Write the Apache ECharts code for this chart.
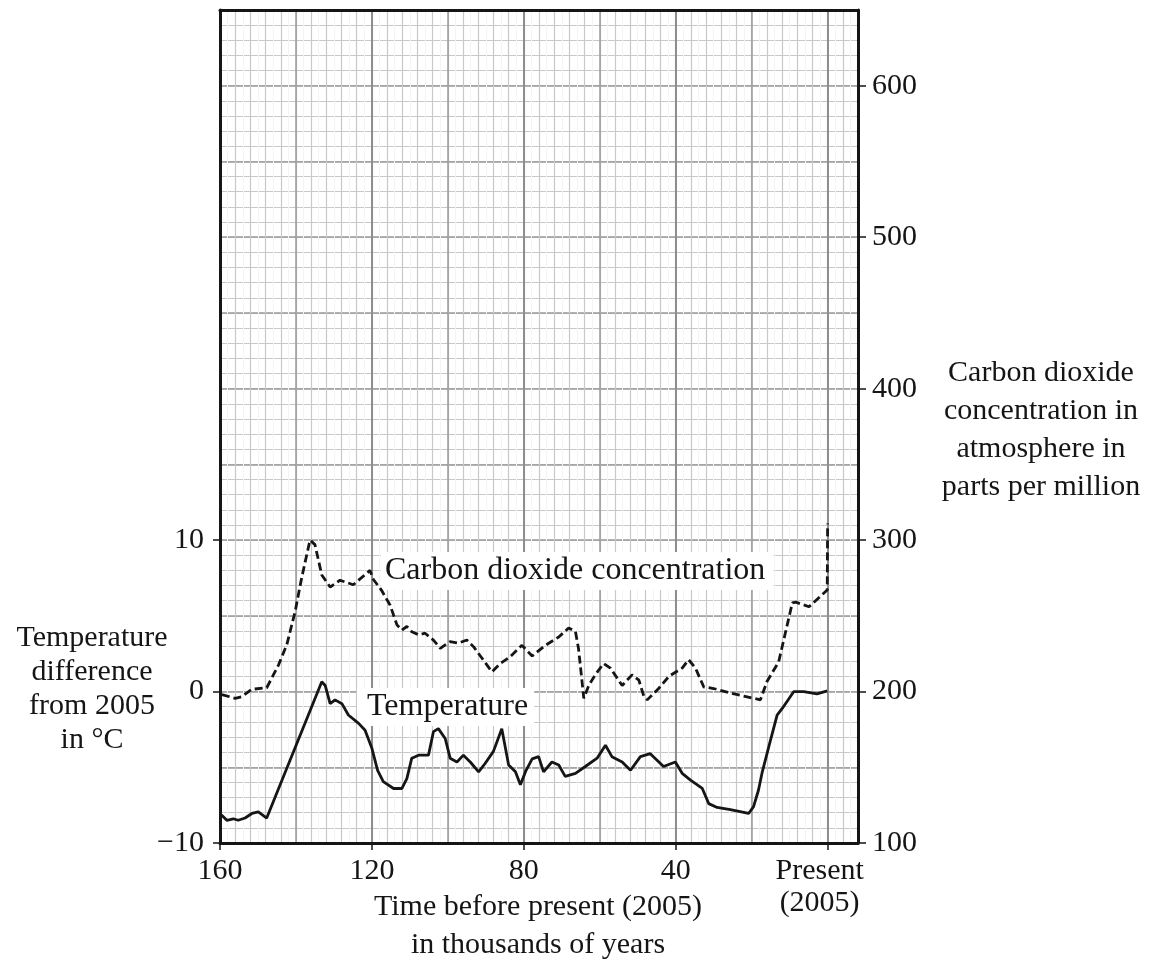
<!DOCTYPE html>
<html>
<head>
    <meta charset="utf-8">
    <title>CO2 and temperature</title>
    <script src="https://cdn.jsdelivr.net/npm/echarts@6/dist/echarts.min.js"></script>
    <style>
        html, body { margin: 0; padding: 0; background: #fff; }
    </style>
</head>
<body>
<div id="main" style="width: 1155px;height:967px;"></div>
<script type="text/javascript">
    // thousands of years before present
    var co2Kyr = [159.5, 156, 154.3, 151.6, 147.7, 144.6, 142.4, 140.2, 138.5, 136.3,
        135, 133.2, 131, 128.4, 124.9, 120.5, 119.6, 117.5, 115.2, 113.4,
        112.1, 110.8, 109.5, 107.7, 106, 103.8, 102, 99.4, 97.2, 95,
        93.2, 91, 88.4, 86.2, 83.6, 80.5, 77.8, 74.3, 70.8, 68.2,
        66.4, 65.6, 64.2, 62.9, 61.2, 59, 57.2, 54.1, 51.5, 49.7,
        48.4, 47.5, 44.5, 41.8, 38.3, 36.6, 34.8, 32.6, 30, 25.6,
        21.2, 17.7, 16, 12.9, 9.3, 8.4, 4.9, 0.1, 0];
    var co2Ppm = [198, 195.5, 196.5, 201.5, 202.5, 217.5, 231, 253, 275, 300,
        297, 277, 269, 273.5, 270.5, 280, 274, 267, 257, 244,
        240.5, 243, 239.5, 237.5, 238.5, 234, 228.5, 233, 232, 234,
        229.5, 222, 213, 218.5, 223, 230.5, 223.5, 230.5, 236, 242,
        239.5, 228.5, 195.5, 204, 211, 218.5, 215.5, 204, 211, 207.5,
        197, 194.5, 202, 210, 215.5, 221, 215.5, 203, 202, 199,
        196.5, 194.5, 206.5, 219.5, 258.5, 259, 256, 267, 311];

    var tempKyr = [159.6, 158.2, 156.5, 155.2, 153.4, 151.6, 149.9, 147.7, 133.2, 132.3,
        131, 129.7, 127.9, 126.2, 123.5, 121.8, 120, 118.5, 117, 114.3,
        112.1, 110.8, 109.5, 107.7, 105.1, 103.8, 102.5, 100.7, 99.4, 97.6,
        95.9, 94.1, 91.9, 90.2, 88, 85.8, 84, 82.2, 80.9, 79.4,
        77.8, 76.1, 74.8, 72.6, 70.8, 69.1, 66.4, 63.8, 60.7, 58.5,
        56.8, 54.1, 51.9, 49.3, 46.7, 43.2, 40.1, 38.3, 36.1, 33,
        31.3, 29.1, 25.6, 20.8, 19.5, 18.2, 17.2, 15.4, 13.3, 11.9,
        8.9, 6.3, 2.8, 0.1];
    var tempDiff = [-8.15, -8.5, -8.4, -8.5, -8.35, -8.05, -7.95, -8.35, 0.65, 0.4,
        -0.8, -0.55, -0.8, -1.55, -2.1, -2.55, -3.75, -5.2, -5.95, -6.4,
        -6.4, -5.75, -4.4, -4.2, -4.2, -2.65, -2.45, -3.1, -4.4, -4.65,
        -4.2, -4.65, -5.3, -4.75, -3.95, -2.45, -4.85, -5.3, -6.15, -5.2,
        -4.45, -4.3, -5.3, -4.65, -4.85, -5.6, -5.4, -4.95, -4.4, -3.55,
        -4.3, -4.65, -5.2, -4.3, -4.1, -4.95, -4.65, -5.4, -5.85, -6.4,
        -7.4, -7.65, -7.8, -8.05, -7.6, -6.5, -5.3, -3.55, -1.55, -1.1,
        0, 0, -0.15, 0.05];

    var xTicks = [-160, -120, -80, -40, 0];
    var co2Ticks = [100, 200, 300, 400, 500, 600];
    var tempTicks = [-10, 0, 10];

    var serif = '"Liberation Serif", "DejaVu Serif", serif';
    var ink = '#151515';
    var minorColor = '#c8c8c8';
    var majorColor = '#9a9a9a';

    var myChart = echarts.init(document.getElementById('main'));

    // helper for the axes that only draw grid lines
    function gridAxis(min, max, interval, color, width) {
        return {
            type: 'value',
            min: min,
            max: max,
            interval: interval,
            axisLine: {show: false, onZero: false},
            axisTick: {show: false},
            axisLabel: {show: false},
            splitLine: {show: true, lineStyle: {color: color, width: width}}
        };
    }

    option = {
        animation: false,
        backgroundColor: '#fff',
        grid: {
            left: 220,
            right: 297,
            top: 10,
            bottom: 124,
            outerBoundsMode: 'none'
        },
        xAxis: [
            {
                type: 'value',
                position: 'bottom',
                min: -160,
                max: 8,
                interval: 40,
                axisLine: {show: true, onZero: false, lineStyle: {color: ink, width: 3}},
                axisTick: {show: true, customValues: xTicks, length: 7, lineStyle: {color: ink, width: 1.5}},
                axisLabel: {
                    customValues: xTicks,
                    margin: 12,
                    color: ink,
                    fontFamily: serif,
                    fontSize: 30,
                    lineHeight: 32,
                    formatter: function (v) {
                        if (v === 0) return '{p|Present}\n{p|(2005)}';
                        return v < 0 ? String(-v) : '';
                    },
                    rich: {
                        p: {fontFamily: serif, fontSize: 30, lineHeight: 32, color: ink, padding: [0, 16, 0, 0]}
                    }
                },
                splitLine: {show: false}
            },
            {
                type: 'value',
                position: 'top',
                min: -160,
                max: 8,
                axisLine: {show: true, onZero: false, lineStyle: {color: ink, width: 3}},
                axisTick: {show: false},
                axisLabel: {show: false},
                splitLine: {show: false}
            },
            gridAxis(-160, 8, 2, '#f4f4f4', 1),
            gridAxis(-160, 8, 4, minorColor, 1.2),
            gridAxis(-160, 8, 20, majorColor, 1.5),
            gridAxis(-160, 8, 40, '#8e8e8e', 2)
        ],
        yAxis: [
            {
                type: 'value',
                position: 'right',
                min: 100,
                max: 650,
                interval: 100,
                axisLine: {show: true, onZero: false, lineStyle: {color: ink, width: 3}},
                axisTick: {show: true, customValues: co2Ticks, length: 8, lineStyle: {color: ink, width: 1.5}},
                axisLabel: {
                    customValues: co2Ticks,
                    margin: 14,
                    color: ink,
                    fontFamily: serif,
                    fontSize: 30,
                    formatter: function (v) { return v <= 600 ? String(v) : ''; }
                },
                splitLine: {show: false}
            },
            {
                type: 'value',
                position: 'left',
                min: -10,
                max: 45,
                interval: 10,
                axisLine: {show: true, onZero: false, lineStyle: {color: ink, width: 3}},
                axisTick: {show: true, customValues: tempTicks, length: 7, lineStyle: {color: ink, width: 1.5}},
                axisLabel: {
                    customValues: tempTicks,
                    margin: 16,
                    color: ink,
                    fontFamily: serif,
                    fontSize: 30,
                    formatter: function (v) {
                        if (v > 10) return '';
                        return v < 0 ? '\u2212' + (-v) : String(v);
                    }
                },
                splitLine: {show: false}
            },
            gridAxis(100, 650, 10, minorColor, 1.2),
            gridAxis(100, 650, 50, majorColor, 1.5)
        ],
        graphic: [
            {
                type: 'text', x: 92, y: 689, z: 10,
                style: {
                    text: 'Temperature\ndifference\nfrom 2005\nin \u00b0C',
                    font: '30px ' + serif, fill: ink, lineHeight: 34,
                    textAlign: 'center', align: 'center',
                    textVerticalAlign: 'middle', verticalAlign: 'middle'
                }
            },
            {
                type: 'text', x: 1041, y: 430, z: 10,
                style: {
                    text: 'Carbon dioxide\nconcentration in\natmosphere in\nparts per million',
                    font: '30px ' + serif, fill: ink, lineHeight: 38,
                    textAlign: 'center', align: 'center',
                    textVerticalAlign: 'middle', verticalAlign: 'middle'
                }
            },
            {
                type: 'text', x: 538, y: 926, z: 10,
                style: {
                    text: 'Time before present (2005)\nin thousands of years',
                    font: '30px ' + serif, fill: ink, lineHeight: 38,
                    textAlign: 'center', align: 'center',
                    textVerticalAlign: 'middle', verticalAlign: 'middle'
                }
            },
            {
                type: 'text', x: 381, y: 571, z: 1,
                style: {
                    text: 'Carbon dioxide concentration',
                    font: '32px ' + serif, fill: ink,
                    backgroundColor: '#fff', padding: [3, 8, 3, 4],
                    textAlign: 'left', align: 'left',
                    textVerticalAlign: 'middle', verticalAlign: 'middle'
                }
            },
            {
                type: 'text', x: 357, y: 707, z: 1,
                style: {
                    text: 'Temperature',
                    font: '32px ' + serif, fill: ink,
                    backgroundColor: '#fff', padding: [3, 6, 3, 10],
                    textAlign: 'left', align: 'left',
                    textVerticalAlign: 'middle', verticalAlign: 'middle'
                }
            }
        ],
        series: [
            {
                name: 'Carbon dioxide concentration',
                type: 'line',
                xAxisIndex: 0,
                yAxisIndex: 0,
                z: 5,
                showSymbol: false,
                lineStyle: {color: ink, width: 2.8, type: [8, 4]},
                data: co2Kyr.map(function (k, i) { return [-k, co2Ppm[i]]; })
            },
            {
                name: 'Temperature',
                type: 'line',
                xAxisIndex: 0,
                yAxisIndex: 1,
                z: 5,
                showSymbol: false,
                lineStyle: {color: ink, width: 2.8},
                data: tempKyr.map(function (k, i) { return [-k, tempDiff[i]]; })
            }
        ]
    };

    myChart.setOption(option);
</script>
</body>
</html>
